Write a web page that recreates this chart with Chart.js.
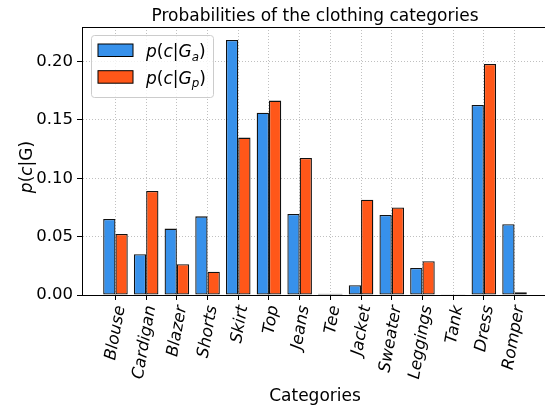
<!DOCTYPE html>
<html lang="en">
<head>
  <meta charset="UTF-8" />
  <title>Probabilities of the clothing categories</title>
  <style>
    html, body {
      margin: 0;
      padding: 0;
      background: #fff;
      overflow: hidden;
    }
    #contenedor {
      width: 552px;
      height: 406px;
    }
  </style>
</head>
<body>
  <div id="contenedor"><canvas id="grafico"></canvas></div>

  <script src="https://cdn.jsdelivr.net/npm/chart.js"></script>
  <script>
    const titulo = "Probabilities of the clothing categories";
    const categorias = ["Blouse", "Cardigan", "Blazer", "Shorts", "Skirt", "Top", "Jeans",
                        "Tee", "Jacket", "Sweater", "Leggings", "Tank", "Dress", "Romper"];
    const probGa = [0.0651, 0.0349, 0.0569, 0.0674, 0.2186, 0.1563, 0.0694,
                    0.0010, 0.0083, 0.0686, 0.0231, 0.0003, 0.1629, 0.0606];
    const probGp = [0.0523, 0.0891, 0.0263, 0.0200, 0.1349, 0.1666, 0.1174,
                    0.0010, 0.0817, 0.0751, 0.0289, 0.0003, 0.1980, 0.0023];
    const ticksY = [0.00, 0.05, 0.10, 0.15, 0.20];

    // trozos de texto: it = cursiva, sub = subindice
    const leyendaGa = [{ t: "p", it: 1 }, { t: "(" }, { t: "c", it: 1 }, { t: "|" }, { t: "G", it: 1 }, { t: "a", it: 1, sub: 1 }, { t: ")" }];
    const leyendaGp = [{ t: "p", it: 1 }, { t: "(" }, { t: "c", it: 1 }, { t: "|" }, { t: "G", it: 1 }, { t: "p", it: 1, sub: 1 }, { t: ")" }];
    const etiquetaY = [{ t: "p", it: 1 }, { t: "(" }, { t: "c", it: 1 }, { t: "|G)" }];

    const AZUL = "#3791EB";
    const NARANJA = "#FF5719";
    const FUENTE = '"DejaVu Sans"';

    Chart.defaults.font.family = FUENTE;

    function textoRico(ctx, partes, x, y, size, medir) {
      let cx = x;
      partes.forEach(p => {
        const s = p.sub ? size * 0.7 : size;
        ctx.font = (p.it ? "italic " : "") + s + "px " + FUENTE;
        if (!medir) ctx.fillText(p.t, cx, y + (p.sub ? size * 0.22 : 0));
        cx += ctx.measureText(p.t).width;
      });
      return cx - x;
    }

    const decorado = {
      id: "decorado",
      afterDraw(chart) {
        const ctx = chart.ctx;
        const a = chart.chartArea;
        ctx.save();

        // borde superior
        ctx.strokeStyle = "#000";
        ctx.lineWidth = 1;
        ctx.beginPath();
        ctx.moveTo(a.left, Math.round(a.top) + 0.5);
        ctx.lineTo(a.right, Math.round(a.top) + 0.5);
        ctx.stroke();

        // titulo
        ctx.fillStyle = "#000";
        ctx.textBaseline = "alphabetic";
        ctx.textAlign = "center";
        ctx.font = "17px " + FUENTE;
        ctx.fillText(titulo, (a.left + a.right) / 2, 20.5);

        // etiqueta eje y
        ctx.textAlign = "left";
        ctx.save();
        ctx.translate(32, 167);
        ctx.rotate(-Math.PI / 2);
        const w = textoRico(ctx, etiquetaY, 0, 0, 17, true);
        textoRico(ctx, etiquetaY, -w / 2, 0, 17);
        ctx.restore();

        // leyenda
        const lx = 91, ly = 35, lw = 122, lh = 62;
        ctx.beginPath();
        ctx.roundRect(lx + 0.5, ly + 0.5, lw, lh, 3);
        ctx.fillStyle = "rgba(255,255,255,0.8)";
        ctx.fill();
        ctx.strokeStyle = "#cccccc";
        ctx.stroke();

        [[AZUL, leyendaGa, 44], [NARANJA, leyendaGp, 70.7]].forEach(([color, partes, py]) => {
          ctx.fillStyle = color;
          ctx.fillRect(98, py, 35, 12.5);
          ctx.strokeStyle = "#000";
          ctx.lineWidth = 1;
          ctx.strokeRect(98, py, 35, 12.5);
          ctx.fillStyle = "#000";
          textoRico(ctx, partes, 146, py + 13, 17);
        });

        ctx.restore();
      }
    };

    const rejilla = {
      offset: false,
      color: "#b0b0b0",
      lineWidth: 0.8,
      tickColor: "#000",
      tickBorderDash: [],
      tickWidth: 1,
      tickLength: 5
    };
    const borde = { color: "#000", width: 1, dash: [1, 2] };

    new Chart(document.getElementById("grafico"), {
      type: "bar",
      data: {
        datasets: [
          {
            label: "p(c|Ga)",
            data: categorias.map((_, i) => ({ x: i, y: probGa[i] })),
            backgroundColor: AZUL,
            borderColor: "#111",
            borderWidth: 1.3,
            borderSkipped: false,
            categoryPercentage: 0.8,
            barPercentage: 1.0
          },
          {
            label: "p(c|Gp)",
            data: categorias.map((_, i) => ({ x: i, y: probGp[i] })),
            backgroundColor: NARANJA,
            borderColor: "#111",
            borderWidth: 1.3,
            borderSkipped: false,
            categoryPercentage: 0.8,
            barPercentage: 1.0
          }
        ]
      },
      options: {
        responsive: true,
        maintainAspectRatio: false,
        animation: false,
        layout: { padding: { left: 0, right: 4, top: 27, bottom: 0 } },
        plugins: {
          legend: { display: false },
          title: { display: false },
          tooltip: { enabled: false }
        },
        scales: {
          x: {
            type: "linear",
            offset: false,
            min: -1.09,
            max: 14.09,
            afterBuildTicks: s => { s.ticks = categorias.map((_, i) => ({ value: i })); },
            afterFit: s => { s.height = 111; },
            ticks: {
              callback: v => categorias[v],
              autoSkip: false,
              minRotation: 80,
              maxRotation: 80,
              labelOffset: 5,
              padding: 4,
              color: "#000",
              font: { size: 16.5, style: "italic" }
            },
            grid: rejilla,
            border: borde,
            title: {
              display: true,
              text: "Categories",
              color: "#000",
              font: { size: 17 },
              padding: { top: 0, bottom: -1 }
            }
          },
          y: {
            min: 0,
            max: 0.2297,
            afterBuildTicks: s => { s.ticks = ticksY.map(v => ({ value: v })); },
            afterFit: s => { s.width = 82; },
            ticks: {
              callback: v => v.toFixed(2),
              color: "#000",
              padding: 4,
              font: { size: 16.5 }
            },
            grid: rejilla,
            border: borde
          }
        }
      },
      plugins: [decorado]
    });
  </script>
</body>
</html>
